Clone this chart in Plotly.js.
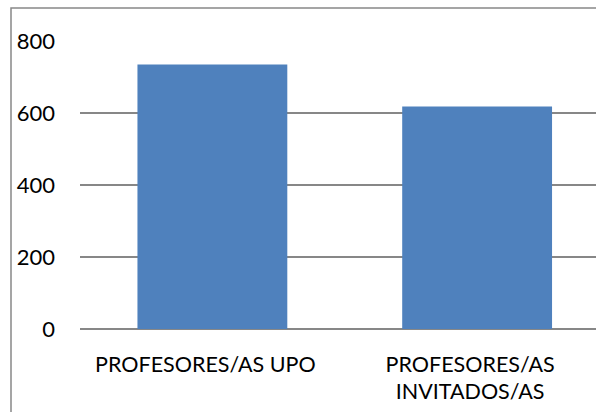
<!DOCTYPE html>
<html>
<head>
<meta charset="utf-8">
<script src="https://cdn.plot.ly/plotly-3.0.1.min.js"></script>
<style>html,body{margin:0;padding:0;background:#fff;}#chart{width:596px;height:412px;}</style>
</head>
<body>
<div id="chart"></div>
<script>
const categories = ["PROFESORES/AS UPO", "PROFESORES/AS<br>INVITADOS/AS"];
const values = [735, 618];
const yTicks = [0, 200, 400, 600, 800];

const trace = {
  type: "bar",
  x: categories,
  y: values,
  marker: {color: "#4F81BD", line: {width: 0}},
  hoverinfo: "none"
};

const layout = {
  width: 596,
  height: 412,
  margin: {l: 80, r: 0, t: 41, b: 83, pad: 0},
  paper_bgcolor: "#fff",
  plot_bgcolor: "#fff",
  showlegend: false,
  bargap: 0.434,
  font: {family: "Lato, 'Open Sans', sans-serif", size: 21.5, color: "#000"},
  xaxis: {
    type: "category",
    range: [-0.5, 1.449],
    showgrid: false,
    showline: false,
    zeroline: false,
    ticks: "",
    ticklabelstandoff: 20,
    ticklabelshift: -7,
    tickfont: {size: 21.5}
  },
  yaxis: {
    range: [0, 800],
    tickvals: yTicks,
    ticktext: yTicks.map(String),
    showgrid: true,
    gridcolor: "#878787",
    gridwidth: 1.5,
    zeroline: true,
    zerolinecolor: "#878787",
    zerolinewidth: 1.5,
    showline: false,
    ticks: "",
    ticklabelstandoff: 24,
    tickfont: {size: 22}
  },
  shapes: [{
    type: "rect",
    xref: "paper", yref: "paper",
    x0: (11 - 80) / 516, x1: 1.2,
    y0: -0.5, y1: (329 - 8) / 288,
    line: {color: "#888888", width: 1.5},
    fillcolor: "rgba(0,0,0,0)",
    layer: "below"
  }]
};

Plotly.newPlot("chart", [trace], layout, {staticPlot: true, displayModeBar: false});
</script>
</body>
</html>
